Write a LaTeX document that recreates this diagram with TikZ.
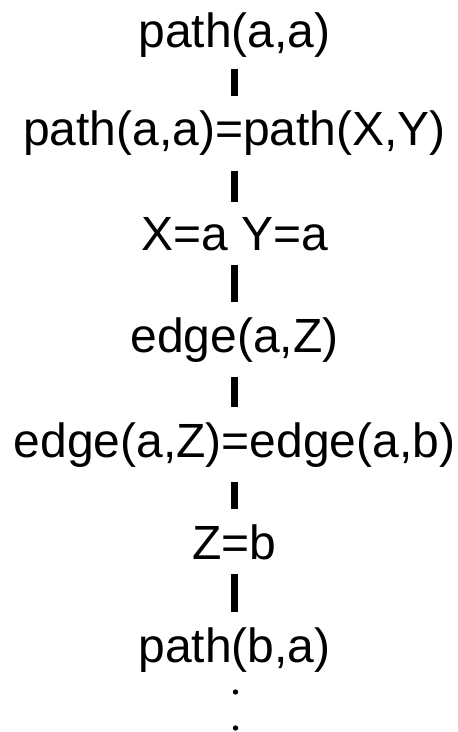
\documentclass[tikz,border=0pt]{standalone}
\usepackage{fontspec}
\setmainfont{Liberation Sans}
\begin{document}
\begin{tikzpicture}[x=1bp,y=-1bp,line cap=butt,font=\fontsize{48bp}{58bp}\selectfont,
	term/.style={inner sep=0pt,outer sep=0pt,anchor=base},
	bar/.style={line width=7bp,shorten >=15bp,shorten <=15bp}]
	\useasboundingbox (0,0) rectangle (458,732);
	\node[term] (goal1) at (234.5,48) {path(a,a)};
	\node[term] (unify1) at (234.5,146) {path(a,a)=path(X,Y)};
	\node[term] (subst1) at (234.5,250) {X=a Y=a};
	\node[term] (goal2) at (234.5,352) {edge(a,Z)};
	\node[term] (unify2) at (234.5,457) {edge(a,Z)=edge(a,b)};
	\node[term] (subst2) at (234.5,559) {Z=b};
	\node[term] (goal3) at (234.5,662) {path(b,a)};
	\draw[bar,shorten <=11bp] (goal1)--(unify1);
	\foreach \a/\b in {unify1/subst1,subst1/goal2,goal2/unify2,unify2/subst2,subst2/goal3} \draw[bar] (\a)--(\b);
	\coordinate (more1) at (235.5,692);
	\coordinate (more2) at (235.5,728);
	\fill (more1) circle(2.7bp) (more2) circle(2.7bp);
\end{tikzpicture}
\end{document}
